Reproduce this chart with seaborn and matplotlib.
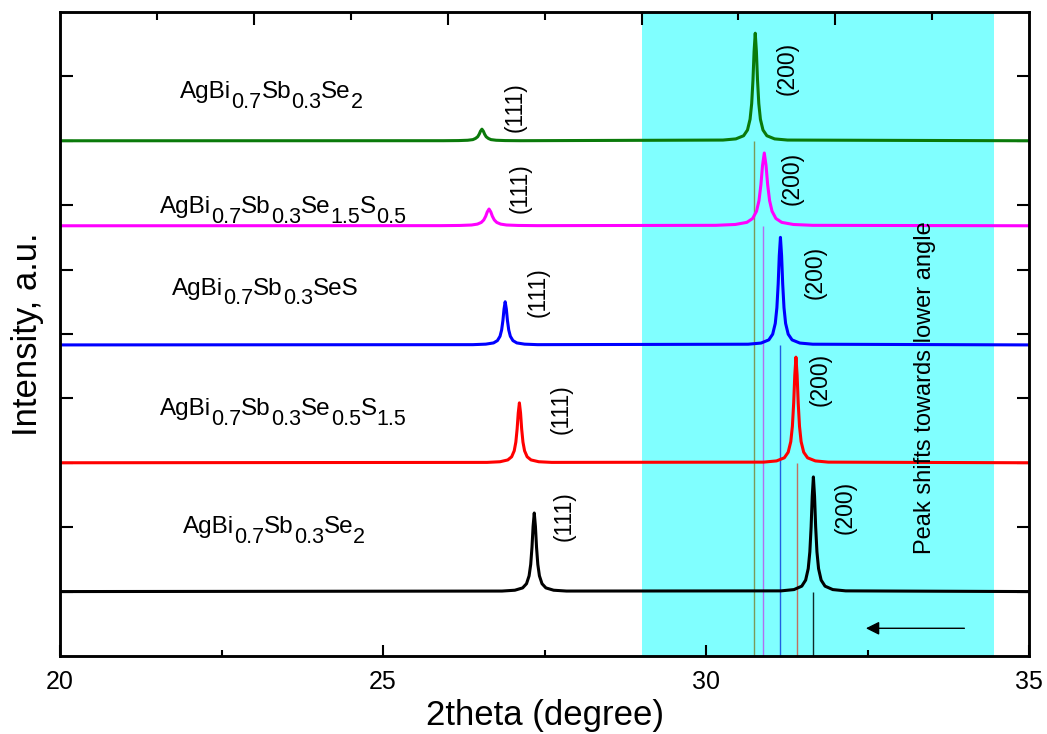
import numpy as np
import pandas as pd
import matplotlib
matplotlib.use('Agg')
import matplotlib.pyplot as plt
import seaborn as sns

# XRD traces (x in degrees 2theta, y in offset a.u.)
black_x = [20,
           26.84, 27.04, 27.16, 27.22, 27.26, 27.285, 27.305, 27.322, 27.34,
           27.358, 27.375, 27.395, 27.42, 27.46, 27.52, 27.64, 27.84,
           31.16, 31.36, 31.48, 31.54, 31.58, 31.605, 31.625, 31.642, 31.66,
           31.678, 31.695, 31.715, 31.74, 31.78, 31.84, 31.96, 32.16,
           35]
black_y = [1.0,
           1.008, 1.021, 1.057, 1.122, 1.244, 1.422, 1.691, 2.013, 2.22,
           2.013, 1.691, 1.422, 1.244, 1.122, 1.057, 1.021, 1.008,
           1.011, 1.031, 1.084, 1.178, 1.356, 1.616, 2.007, 2.477, 2.78,
           2.477, 2.007, 1.616, 1.356, 1.178, 1.084, 1.031, 1.011,
           1.0]

red_x = [20,
         26.61, 26.81, 26.93, 26.99, 27.03, 27.055, 27.075, 27.092, 27.11,
         27.128, 27.145, 27.165, 27.19, 27.23, 27.29, 27.41, 27.61,
         30.89, 31.09, 31.21, 31.27, 31.31, 31.335, 31.355, 31.372, 31.39,
         31.408, 31.425, 31.445, 31.47, 31.51, 31.57, 31.69, 31.89,
         35]
red_y = [3.0,
         3.006, 3.016, 3.044, 3.093, 3.186, 3.322, 3.526, 3.772, 3.93,
         3.772, 3.526, 3.322, 3.186, 3.093, 3.044, 3.016, 3.006,
         3.010, 3.029, 3.077, 3.164, 3.328, 3.567, 3.928, 4.361, 4.64,
         4.361, 3.928, 3.567, 3.328, 3.164, 3.077, 3.029, 3.010,
         3.0]

blue_x = [20,
          26.39, 26.59, 26.71, 26.77, 26.81, 26.835, 26.855, 26.872, 26.89,
          26.908, 26.925, 26.945, 26.97, 27.01, 27.07, 27.19, 27.39,
          30.65, 30.85, 30.97, 31.03, 31.07, 31.095, 31.115, 31.132, 31.15,
          31.168, 31.185, 31.205, 31.23, 31.27, 31.33, 31.45, 31.65,
          35]
blue_y = [4.83,
          4.834, 4.842, 4.861, 4.897, 4.964, 5.062, 5.209, 5.386, 5.50,
          5.386, 5.209, 5.062, 4.964, 4.897, 4.861, 4.842, 4.834,
          4.841, 4.859, 4.908, 4.997, 5.164, 5.408, 5.775, 6.216, 6.50,
          6.216, 5.775, 5.408, 5.164, 4.997, 4.908, 4.859, 4.841,
          4.83]

magenta_x = [20,
             25.89, 26.19, 26.37, 26.46, 26.52, 26.558, 26.588, 26.613, 26.64,
             26.667, 26.692, 26.722, 26.76, 26.82, 26.91, 27.09, 27.39,
             30.15, 30.45, 30.63, 30.72, 30.78, 30.818, 30.848, 30.873, 30.90,
             30.927, 30.952, 30.982, 31.02, 31.08, 31.17, 31.35, 31.65,
             35]
magenta_y = [6.68,
             6.682, 6.685, 6.692, 6.706, 6.732, 6.770, 6.827, 6.896, 6.94,
             6.896, 6.827, 6.770, 6.732, 6.706, 6.692, 6.685, 6.682,
             6.687, 6.700, 6.733, 6.793, 6.906, 7.071, 7.320, 7.618, 7.81,
             7.618, 7.320, 7.071, 6.906, 6.793, 6.733, 6.700, 6.687,
             6.68]

green_x = [20,
           25.93, 26.17, 26.31, 26.39, 26.43, 26.464, 26.488, 26.508, 26.53,
           26.552, 26.572, 26.596, 26.63, 26.67, 26.75, 26.89, 27.13,
           30.26, 30.46, 30.58, 30.64, 30.68, 30.705, 30.725, 30.742, 30.76,
           30.778, 30.795, 30.815, 30.84, 30.88, 30.94, 31.06, 31.26,
           35]
green_y = [8.0,
           8.001, 8.003, 8.008, 8.018, 8.036, 8.062, 8.102, 8.149, 8.18,
           8.149, 8.102, 8.062, 8.036, 8.018, 8.008, 8.003, 8.001,
           8.011, 8.029, 8.078, 8.167, 8.334, 8.578, 8.945, 9.386, 9.67,
           9.386, 8.945, 8.578, 8.334, 8.167, 8.078, 8.029, 8.011,
           8.0]

samples = ['S1', 'S2', 'S3', 'S4', 'S5']
colors = ['black', '#ff0000', '#0000ff', '#ff00ff', '#0a7a0a']
baselines = [1.0, 3.0, 4.83, 6.68, 8.0]
peak200 = [31.66, 31.41, 31.15, 30.88, 30.74]
marker_colors = ['#102a2a', '#c07060', '#2060e0', '#b070f0', '#7a9a5a']

# sample names as (text, is_subscript) pieces
label_parts = [
    [('AgBi', 0), ('0.7', 1), ('Sb', 0), ('0.3', 1), ('Se', 0), ('2', 1)],
    [('AgBi', 0), ('0.7', 1), ('Sb', 0), ('0.3', 1), ('Se', 0), ('0.5', 1), ('S', 0), ('1.5', 1)],
    [('AgBi', 0), ('0.7', 1), ('Sb', 0), ('0.3', 1), ('SeS', 0)],
    [('AgBi', 0), ('0.7', 1), ('Sb', 0), ('0.3', 1), ('Se', 0), ('1.5', 1), ('S', 0), ('0.5', 1)],
    [('AgBi', 0), ('0.7', 1), ('Sb', 0), ('0.3', 1), ('Se', 0), ('2', 1)],
]
label_x = [21.90, 21.55, 21.73, 21.55, 21.86]
label_y = [1.91, 3.74, 5.61, 6.88, 8.66]
l111_x = [27.80, 27.76, 27.40, 27.12, 27.04]
l111_y = [2.17, 3.83, 5.65, 7.27, 8.52]
l200_x = [32.15, 31.76, 31.69, 31.33, 31.25]
l200_y = [2.30, 4.29, 5.96, 7.42, 9.13]

df = pd.concat([
    pd.DataFrame({'x': black_x, 'y': black_y, 'sample': 'S1'}),
    pd.DataFrame({'x': red_x, 'y': red_y, 'sample': 'S2'}),
    pd.DataFrame({'x': blue_x, 'y': blue_y, 'sample': 'S3'}),
    pd.DataFrame({'x': magenta_x, 'y': magenta_y, 'sample': 'S4'}),
    pd.DataFrame({'x': green_x, 'y': green_y, 'sample': 'S5'}),
], ignore_index=True)

sns.set_style('ticks')
plt.rcParams['font.family'] = ['Liberation Sans', 'DejaVu Sans']
for key in ['text.color', 'axes.labelcolor', 'xtick.color', 'ytick.color', 'axes.edgecolor']:
    plt.rcParams[key] = 'black'

fig = plt.figure(figsize=(10.47, 7.34), dpi=100)
ax = fig.add_axes([0.0573, 0.1063, 0.9257, 0.8774])

ax.axvspan(29.0, 34.45, color='#80ffff', lw=0, zorder=0)
ax.vlines(peak200, 0, baselines, colors=marker_colors, lw=1.0, zorder=1)

sns.lineplot(data=df, x='x', y='y', hue='sample', hue_order=samples, palette=colors,
             sort=False, estimator=None, legend=False, lw=2.2, ax=ax, zorder=2)


def formula(x, y, parts, size=17.5, sub_size=15.5):
    prev = ax.text(x, y, parts[0][0], fontsize=size, va='baseline', ha='left')
    for txt, sub in parts[1:]:
        prev = ax.annotate(txt, xy=(1, y), xycoords=(prev, 'data'),
                           xytext=(0, -7 if sub else 0), textcoords='offset points',
                           fontsize=sub_size if sub else size, va='baseline', ha='left')


for i in range(5):
    formula(label_x[i], label_y[i], label_parts[i])
    ax.text(l111_x[i], l111_y[i], '(111)', fontsize=16.5, rotation=90, ha='center', va='center')
    ax.text(l200_x[i], l200_y[i], '(200)', fontsize=16.5, rotation=90, ha='center', va='center')

ax.text(33.39, 4.16, 'Peak shifts towards lower angle', fontsize=17, rotation=90,
        ha='center', va='center')
ax.annotate('', xy=(32.43, 0.43), xytext=(34.04, 0.43),
            arrowprops=dict(arrowstyle='-|>', color='black', lw=1.0, mutation_scale=20))

ax.set_xlim(20, 35)
ax.set_ylim(0, 10)
ax.set_xticks([20, 25, 30, 35])
ax.set_xticks([22.5, 27.5, 32.5], minor=True)
ax.set_yticks([1, 2, 3, 4, 5, 6, 7, 8, 9])
ax.set_yticklabels([])
ax.tick_params(axis='x', which='major', direction='in', length=8, width=1.5, labelsize=18, pad=10)
ax.tick_params(axis='x', which='minor', direction='in', length=4, width=1.5)
ax.tick_params(axis='y', direction='in', length=9, width=1.5, left=True, right=True)
for s in ax.spines.values():
    s.set_linewidth(1.8)

ax.set_xlabel('2theta (degree)', fontsize=25, labelpad=4)
ax.set_ylabel('Intensity, a.u.', fontsize=25, labelpad=8)

top = ax.twiny()
top.set_xlim(20, 35)
top.set_xticks([23, 26, 29, 32])
top.set_xticks([21.5, 24.5, 27.5, 30.5, 33.5], minor=True)
top.set_xticklabels([])
top.tick_params(axis='x', which='major', direction='in', length=9, width=1.5)
top.tick_params(axis='x', which='minor', direction='in', length=6, width=1.5)
for s in top.spines.values():
    s.set_linewidth(1.8)

fig.savefig('out.png', dpi=100)
